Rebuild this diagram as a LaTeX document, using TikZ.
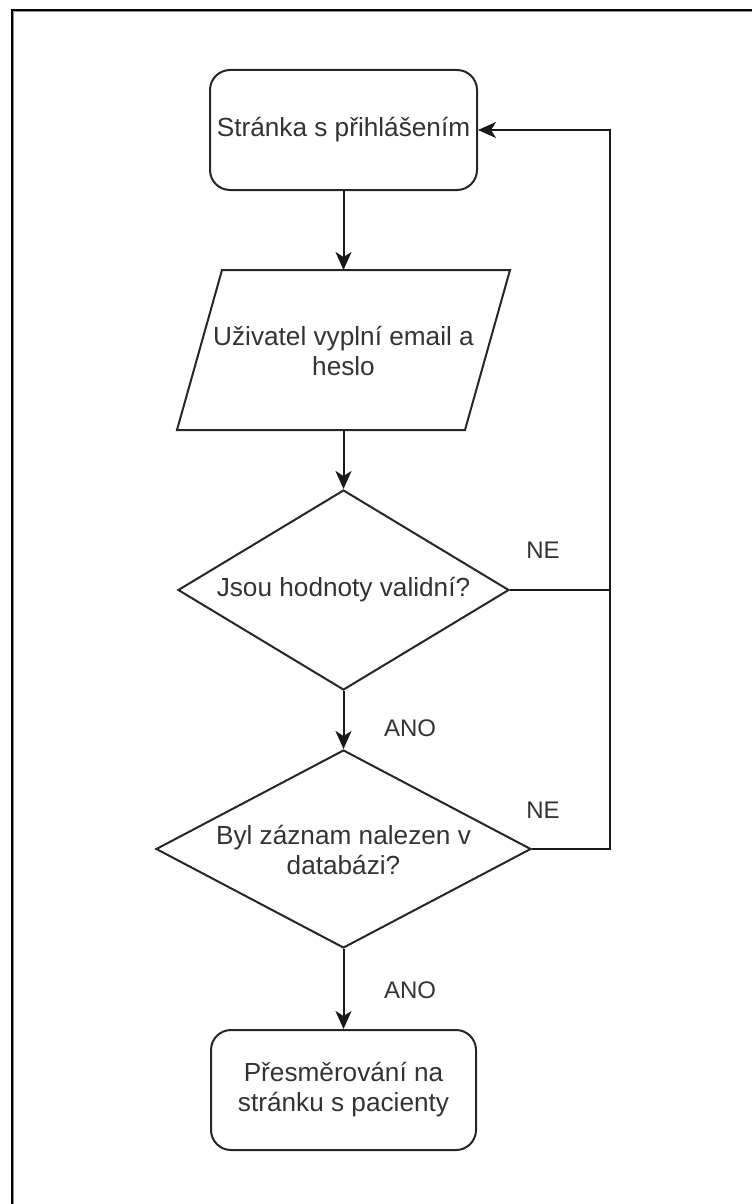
\documentclass[tikz,border=0pt]{standalone}
\usepackage{fontspec}
\setmainfont{Liberation Sans}
\usetikzlibrary{shapes.geometric,arrows.meta}
\tikzset{
  txt/.style={font=\fontsize{26.2}{30}\selectfont, text=black!80, align=center, inner sep=0pt},
  lbl/.style={font=\fontsize{24}{28}\selectfont, text=black!80, inner sep=0pt},
  shp/.style={draw=black!85, line width=2pt},
  roundbox/.style={shp, rectangle, rounded corners=20pt, minimum width=267pt, minimum height=120pt, inner sep=0pt},
  decision/.style={shp, diamond, inner sep=0pt},
  conn/.style={draw=black!90, line width=2pt},
  arr/.style={conn, -{Stealth[length=18pt,width=16pt,inset=5pt]}},
}
\begin{document}
\begin{tikzpicture}[x=1pt,y=-1pt]
\useasboundingbox (0,0) rectangle (752,1204);
% frame (top and left edges of the screenshot)
\draw[black, line width=2pt] (11,10) -- (752,10);
\draw[black!45, line width=1pt] (13,11.6) -- (752,11.6);
\draw[black, line width=1.8pt] (11.8,9) -- (11.8,1204);
\draw[black!45, line width=1.2pt] (13.3,12) -- (13.3,1204);

% start box
\node[roundbox, txt, draw=black!85] (start) at (343.5,130) {Stránka s přihlášením};

% parallelogram (input)
\coordinate (ptl) at (222,270);
\coordinate (ptr) at (510,270);
\coordinate (pbr) at (465,430);
\coordinate (pbl) at (177,430);
\draw[shp] (ptl) -- (ptr) -- (pbr) -- (pbl) -- cycle;
\node[txt] (input) at (343.5,351) {Uživatel vyplní email a\\heslo};
\coordinate (intop) at (343.5,270);
\coordinate (inbot) at (343.5,430);

% decisions
\node[decision, minimum width=331pt, minimum height=200pt] (d1) at (343.5,590) {};
\node[txt] (d1t) at (d1) {Jsou hodnoty validní?};
\node[decision, minimum width=375pt, minimum height=198pt] (d2) at (343.5,849) {};
\node[txt] (d2t) at (343.5,850) {Byl záznam nalezen v\\databázi?};

% end box
\node[roundbox, minimum width=265pt] (end) at (343.5,1090) {};
\node[txt] (endt) at (end) {Přesměrování na\\stránku s pacienty};

% connectors
\coordinate (rt) at (610,130);
\draw[arr] (start.south) -- (intop);
\draw[arr] (inbot) -- (d1.north);
\draw[arr] (d1.south) -- (d2.north);
\draw[arr] (d2.south) -- (end.north);
\draw[conn] (d1.east) -- (d1.east -| rt);
\draw[arr] (d2.east) -| (rt) -- (start.east);

% labels
\node[lbl] (ne1) at (543,550) {NE};
\node[lbl] (ne2) at (543,810) {NE};
\node[lbl] (ano1) at (410,728) {ANO};
\node[lbl] (ano2) at (410,990) {ANO};
\end{tikzpicture}
\end{document}
